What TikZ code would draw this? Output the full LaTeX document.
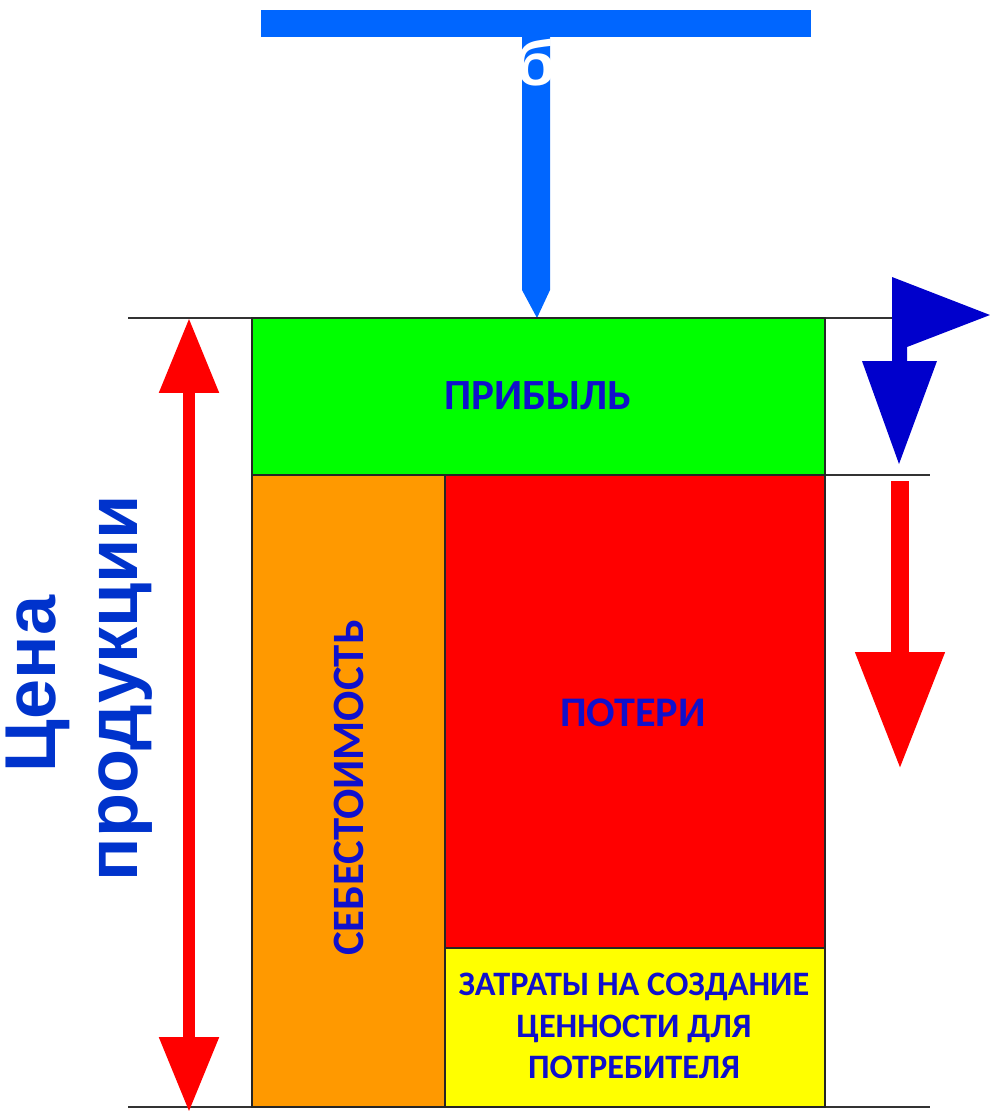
\documentclass[tikz,border=0pt]{standalone}
\usepackage{fontspec}
\setmainfont{Carlito}
\newfontfamily\arialfont{Liberation Sans}
\usetikzlibrary{arrows.meta}
\definecolor{barblue}{HTML}{0066FF}
\definecolor{flagblue}{HTML}{0000CC}
\definecolor{txtblue}{HTML}{1010CC}
\definecolor{lblblue}{HTML}{0033CC}
\definecolor{cgreen}{HTML}{00FF00}
\definecolor{corange}{HTML}{FF9900}
\definecolor{cred}{HTML}{FF0000}
\definecolor{cyellow}{HTML}{FFFF00}

\begin{document}
\begin{tikzpicture}[x=0.02cm, y=-0.02cm,
  rule/.style={draw=black!80, line width=1.2pt},
  cell/.style={draw=black!85, line width=1.2pt},
  celltext/.style={text=txtblue, font=\bfseries\fontsize{24.5}{29}\selectfont},
  smalltext/.style={text=txtblue, align=center, font=\bfseries\fontsize{19.5}{23.8}\selectfont},
  pricetext/.style={text=lblblue, rotate=90, anchor=base, font=\arialfont\bfseries\fontsize{41}{48}\selectfont},
  pricearrow/.style={cred, line width=0.24cm, {Triangle[width=1.14cm,length=1.5cm]}-{Triangle[width=1.14cm,length=1.5cm]}},
  lossarrow/.style={cred, line width=0.36cm, -{Triangle[width=1.7cm,length=2.34cm]}}]

\useasboundingbox (0,0) rectangle (990,1112);

% top T-bar
\fill[barblue] (261,10) rectangle (811,37);
\fill[barblue] (522,37) -- (550,37) -- (550,290) -- (537,318) -- (522,290) -- cycle;
\node[text=white, anchor=base, inner sep=0pt, font=\arialfont\bfseries\fontsize{36}{40}\selectfont] (blet) at (536,85) {б};

% guide lines
\draw[rule] (128,318) -- (930,318);
\draw[rule] (825,475) -- (930,475);
\draw[rule] (128,1107) -- (930,1107);

% boxes
\draw[cell, fill=cgreen] (252,318) rectangle (825,475);
\node[celltext] (pribyl) at (538,396) {ПРИБЫЛЬ};

\draw[cell, fill=corange] (252,475) rectangle (445,1107);
\node[celltext, rotate=90, font=\bfseries\fontsize{25.5}{30}\selectfont] (sebest) at (349,788) {СЕБЕСТОИМОСТЬ};

\draw[cell, fill=cred] (445,475) rectangle (825,948);
\node[celltext, font=\bfseries\fontsize{24}{29}\selectfont] (poteri) at (633,713) {ПОТЕРИ};

\draw[cell, fill=cyellow] (445,948) rectangle (825,1107);
\node[smalltext] (zatraty) at (634,1026) {ЗАТРАТЫ НА СОЗДАНИЕ\\ЦЕННОСТИ ДЛЯ\\ПОТРЕБИТЕЛЯ};

% price arrow and label
\coordinate (ptop) at (189,318);
\coordinate (pbot) at (189,1112);
\draw[pricearrow] (ptop) -- (pbot);
\node[pricetext] (cena) at (55,684) {Цена};
\node[pricetext] (prod) at (137,688) {продукции};

% right arrows
\fill[flagblue] (892,277) -- (990,315) -- (907,347) -- (907,361) -- (937,361) -- (899,464) -- (862,361) -- (892,361) -- cycle;
\coordinate (ltop) at (900,481);
\coordinate (lbot) at (900,769);
\draw[lossarrow] (ltop) -- (lbot);

\end{tikzpicture}
\end{document}
